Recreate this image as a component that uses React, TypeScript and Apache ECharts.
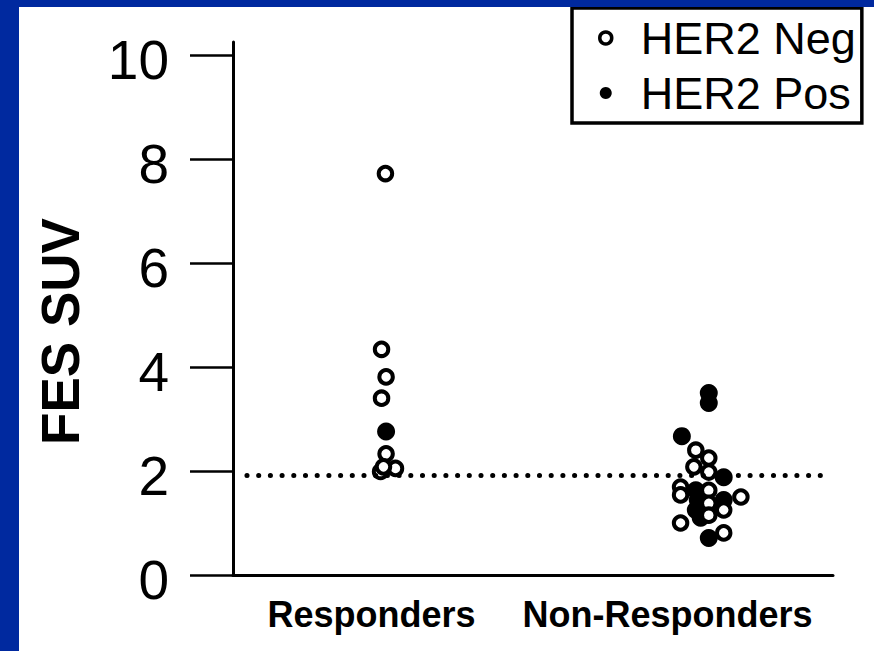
import React, { useEffect, useRef } from "react";
import * as echarts from "echarts";

const categories = ["Responders", "Non-Responders"];
const categoryLabelPos = [0.957, 1.87];
const yTicks = [0, 2, 4, 6, 8, 10];
const threshold = 1.92;

// HER2 negative (open circles): x = group (1 Responders, 2 Non-Responders) with jitter
const negX = [1.0, 0.988, 1.002, 0.988, 1.002, 0.985, 1.031, 0.994,
  1.957, 1.997, 1.951, 1.997, 1.91, 1.91, 1.997, 1.997, 2.043, 2.096, 1.997, 1.91, 2.043];
const negY = [7.72, 4.34, 3.81, 3.4, 2.33, 1.99, 2.05, 2.08,
  2.4, 2.25, 2.08, 1.98, 1.69, 1.54, 1.63, 1.38, 1.25, 1.5, 1.15, 1.0, 0.81];

// HER2 positive (filled circles)
const posX = [1.002, 1.914, 1.997, 1.997, 2.043, 1.957, 1.963, 1.957, 1.972, 2.043, 1.997];
const posY = [2.76, 2.67, 3.5, 3.31, 1.88, 1.63, 1.44, 1.25, 1.1, 1.44, 0.71];

const seriesNames = ["HER2 Neg", "HER2 Pos"];

export default function App() {
  const ref = useRef<HTMLDivElement>(null);
  useEffect(() => {
    if (!ref.current) return;
    const chart = echarts.init(ref.current, null, { renderer: "svg" });
    const font = "'Liberation Sans', Arial, Helvetica, sans-serif";
    const negData = negX.map((x, i) => [x, negY[i]]);
    const posData = posX.map((x, i) => [x, posY[i]]);
    chart.setOption({
      animation: false,
      backgroundColor: "#ffffff",
      textStyle: { fontFamily: font },
      graphic: [
        { type: "rect", left: 0, top: 0, shape: { width: 19, height: 651 }, style: { fill: "#00299f" }, z: 100 },
        { type: "rect", left: 0, top: 0, shape: { width: 874, height: 7 }, style: { fill: "#00299f" }, z: 100 },
      ],
      legend: {
        data: [
          { name: seriesNames[0], itemStyle: { color: "#fff", borderColor: "#000", borderWidth: 3.5 } },
          { name: seriesNames[1], itemStyle: { color: "#000", borderWidth: 0 } },
        ],
        orient: "vertical",
        left: 572,
        top: 8,
        icon: "circle",
        itemWidth: 40,
        itemHeight: 12,
        itemGap: 7,
        padding: [6, 6, 6, 26],
        borderColor: "#000",
        borderWidth: 3.5,
        backgroundColor: "#fff",
        textStyle: { fontSize: 45, color: "#000", fontFamily: font, lineHeight: 48, padding: [0, 0, 0, 10] },
      },
      grid: { left: 233, right: 41, top: 42, bottom: 76, containLabel: false },
      xAxis: {
        type: "value",
        min: 0.53,
        max: 2.38,
        splitLine: { show: false },
        axisLine: { show: true, lineStyle: { color: "#000", width: 3 } },
        axisTick: { show: false },
        axisLabel: {
          customValues: categoryLabelPos,
          formatter: (v: number) => {
            const i = categoryLabelPos.findIndex((p) => Math.abs(p - v) < 1e-6);
            return i >= 0 ? categories[i] : "";
          },
          fontSize: 36,
          fontWeight: "bold",
          color: "#000",
          margin: 21,
          fontFamily: font,
        },
      },
      yAxis: {
        type: "value",
        min: 0,
        max: 10.25,
        name: "FES SUV",
        nameLocation: "middle",
        nameRotate: 90,
        nameGap: 146,
        nameTextStyle: { fontSize: 53, fontWeight: "bold", color: "#000", fontFamily: font, padding: [0, 46, 0, 0] },
        splitLine: { show: false },
        axisLine: { show: true, lineStyle: { color: "#000", width: 3 } },
        axisTick: { show: true, customValues: yTicks, length: 43, lineStyle: { color: "#000", width: 2.5 } },
        axisLabel: {
          customValues: yTicks,
          formatter: (v: number) => "{t|" + v + "}",
          rich: {
            t: { fontSize: 55, color: "#000", fontFamily: font, padding: [10, 0, 0, 0] },
          },
          margin: 64,
        },
      },
      series: [
        {
          name: seriesNames[1],
          type: "scatter",
          data: posData,
          symbol: "circle",
          symbolSize: 18,
          itemStyle: { color: "#000", opacity: 1 },
          z: 2,
        },
        {
          name: seriesNames[0],
          type: "scatter",
          data: negData,
          symbol: "circle",
          symbolSize: 13.5,
          itemStyle: { color: "#fff", borderColor: "#000", borderWidth: 4, opacity: 1 },
          z: 3,
          markLine: {
            silent: true,
            symbol: "none",
            label: { show: false },
            lineStyle: { color: "#000", width: 5, type: [0.1, 11.6], cap: "round" },
            data: [[{ coord: [0.573, threshold] }, { coord: [2.365, threshold] }]],
          },
        },
      ],
    });
    return () => chart.dispose();
  }, []);
  return (
    <div
      ref={ref}
      style={{ position: "absolute", left: 0, top: 0, width: 874, height: 651 }}
    />
  );
}
